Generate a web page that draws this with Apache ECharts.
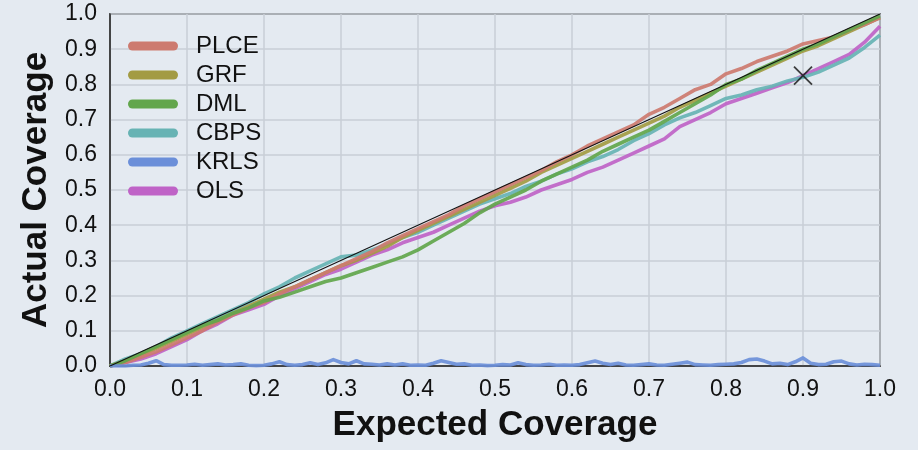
<!DOCTYPE html>
<html><head><meta charset="utf-8">
<script src="https://cdn.jsdelivr.net/npm/echarts@6/dist/echarts.min.js"></script>
<style>html,body{margin:0;padding:0;background:#e4eaf1;}#c{width:918px;height:450px;}</style>
</head><body><div id="c"></div>
<script>
var names = ['PLCE','GRF','DML','CBPS','KRLS','OLS'];
var colors = ['#cd7a6f','#a39b43','#62a64c','#67b3b4','#6b8fd9','#bf63c7'];
var xTicks = [0.0,0.1,0.2,0.3,0.4,0.5,0.6,0.7,0.8,0.9,1.0];
var xs = [0.00,0.02,0.04,0.06,0.08,0.10,0.12,0.14,0.16,0.18,0.20,0.22,0.24,0.26,0.28,0.30,0.32,0.34,0.36,0.38,0.40,0.42,0.44,0.46,0.48,0.50,0.52,0.54,0.56,0.58,0.60,0.62,0.64,0.66,0.68,0.70,0.72,0.74,0.76,0.78,0.80,0.82,0.84,0.86,0.88,0.90,0.92,0.94,0.96,0.98,1.00];
var plce = [0,0.01,0.025,0.04,0.06,0.08,0.10,0.125,0.145,0.165,0.18,0.205,0.225,0.245,0.265,0.285,0.305,0.325,0.35,0.37,0.39,0.41,0.43,0.455,0.475,0.495,0.515,0.535,0.555,0.58,0.60,0.625,0.645,0.665,0.685,0.715,0.735,0.76,0.785,0.80,0.83,0.845,0.865,0.88,0.895,0.915,0.925,0.935,0.955,0.97,0.99];
var grf = [0,0.015,0.03,0.05,0.07,0.09,0.11,0.13,0.15,0.17,0.19,0.21,0.225,0.245,0.265,0.285,0.30,0.32,0.34,0.365,0.385,0.405,0.425,0.445,0.465,0.485,0.505,0.525,0.55,0.57,0.59,0.61,0.63,0.65,0.67,0.69,0.71,0.735,0.755,0.775,0.795,0.815,0.835,0.855,0.875,0.895,0.91,0.93,0.95,0.97,0.99];
var dml = [0,0.015,0.035,0.055,0.075,0.095,0.115,0.13,0.15,0.165,0.185,0.195,0.21,0.225,0.24,0.25,0.265,0.28,0.295,0.31,0.33,0.355,0.38,0.405,0.435,0.46,0.48,0.50,0.525,0.545,0.565,0.585,0.61,0.63,0.65,0.67,0.695,0.72,0.745,0.77,0.80,0.815,0.84,0.86,0.88,0.90,0.915,0.935,0.955,0.975,0.995];
var cbps = [0,0.02,0.035,0.055,0.08,0.10,0.12,0.14,0.16,0.18,0.205,0.225,0.25,0.27,0.29,0.31,0.315,0.33,0.345,0.365,0.38,0.40,0.42,0.44,0.46,0.475,0.49,0.51,0.525,0.545,0.56,0.58,0.595,0.615,0.64,0.66,0.685,0.705,0.72,0.74,0.76,0.77,0.785,0.795,0.81,0.82,0.835,0.855,0.875,0.905,0.94];
var ols = [0,0.01,0.02,0.035,0.055,0.075,0.10,0.12,0.145,0.16,0.175,0.20,0.22,0.24,0.26,0.275,0.295,0.315,0.33,0.35,0.365,0.38,0.40,0.42,0.44,0.455,0.465,0.48,0.50,0.515,0.53,0.55,0.565,0.585,0.605,0.625,0.645,0.68,0.70,0.72,0.745,0.76,0.775,0.79,0.805,0.825,0.845,0.865,0.885,0.92,0.965];
var krlsX = [0.00,0.01,0.02,0.03,0.04,0.05,0.06,0.07,0.08,0.09,0.10,0.11,0.12,0.13,0.14,0.15,0.16,0.17,0.18,0.19,0.20,0.21,0.22,0.23,0.24,0.25,0.26,0.27,0.28,0.29,0.30,0.31,0.32,0.33,0.34,0.35,0.36,0.37,0.38,0.39,0.40,0.41,0.42,0.43,0.44,0.45,0.46,0.47,0.48,0.49,0.50,0.51,0.52,0.53,0.54,0.55,0.56,0.57,0.58,0.59,0.60,0.61,0.62,0.63,0.64,0.65,0.66,0.67,0.68,0.69,0.70,0.71,0.72,0.73,0.74,0.75,0.76,0.77,0.78,0.79,0.80,0.81,0.82,0.83,0.84,0.85,0.86,0.87,0.88,0.89,0.90,0.91,0.92,0.93,0.94,0.95,0.96,0.97,0.98,0.99,1.00];
var krls = [0,0,0,0.002,0.003,0.008,0.015,0.004,0.002,0.002,0.003,0.005,0.002,0.004,0.006,0.003,0.004,0.006,0.002,0.001,0.002,0.006,0.012,0.004,0.002,0.004,0.009,0.004,0.009,0.018,0.01,0.006,0.015,0.006,0.005,0.003,0.006,0.003,0.006,0.002,0.003,0.002,0.008,0.015,0.01,0.005,0.006,0.002,0.003,0.001,0.002,0.004,0.003,0.009,0.004,0.002,0.003,0.005,0.002,0.003,0.002,0.004,0.009,0.014,0.008,0.004,0.008,0.003,0.002,0.004,0.006,0.003,0.002,0.005,0.008,0.011,0.004,0.003,0.002,0.004,0.005,0.006,0.01,0.018,0.02,0.014,0.006,0.008,0.004,0.012,0.023,0.008,0.004,0.005,0.012,0.014,0.006,0.003,0.005,0.004,0.002];
var diagX = [0,1], diagY = [0,1];
var markX = [0.9], markY = [0.825];

function pairs(x, y){ return x.map(function(v,i){ return [v, y[i]]; }); }
var font = '"Liberation Sans", Arial, Helvetica, sans-serif';
var seriesY = {PLCE: plce, GRF: grf, DML: dml, CBPS: cbps, KRLS: krls, OLS: ols};
var drawOrder = ['OLS','CBPS','GRF','PLCE','DML','KRLS'];
var series = drawOrder.map(function(n){
  var i = names.indexOf(n);
  return {
    name: n, type: 'line', showSymbol: false, symbol: 'none',
    data: pairs(n === 'KRLS' ? krlsX : xs, seriesY[n]),
    lineStyle: {color: colors[i], width: 3.6, opacity: 0.92, join: 'round'},
    itemStyle: {color: colors[i]}, z: 3, animation: false
  };
});
series.push({type: 'line', name: 'diag', showSymbol: false, symbol: 'none', data: pairs(diagX, diagY),
  lineStyle: {color: '#111', width: 1.2}, z: 4, animation: false, silent: true});
series.push({type: 'scatter', name: 'mark', data: pairs(markX, markY),
  symbol: 'path://M0,0 L10,10 M10,0 L0,10', symbolSize: 18,
  itemStyle: {color: 'none', borderColor: '#111', borderWidth: 1.8}, z: 6, animation: false, silent: true});

var chart = echarts.init(document.getElementById('c'), null, {renderer: 'canvas'});
chart.setOption({
  backgroundColor: '#e4eaf1',
  animation: false,
  grid: {left: 110, right: 38, top: 14, bottom: 84, show: true, borderColor: '#222', borderWidth: 1.5, backgroundColor: 'transparent'},
  legend: {
    data: names, orient: 'vertical', left: 123, top: 29, itemGap: 5,
    itemWidth: 50, itemHeight: 9,
    icon: 'path://M4.5,0 L45.5,0 A4.5,4.5 0 0 1 45.5,9 L4.5,9 A4.5,4.5 0 0 1 4.5,0 Z',
    textStyle: {fontFamily: font, fontSize: 24, color: '#111', padding: [0,0,0,13]},
    selectedMode: false
  },
  xAxis: {
    type: 'value', min: 0, max: 1, interval: 0.1,
    name: 'Expected Coverage', nameLocation: 'middle', nameGap: 42,
    nameTextStyle: {fontFamily: font, fontSize: 35, fontWeight: 'bold', color: '#111'},
    axisLine: {show: true, lineStyle: {color: '#222', width: 1.5}},
    axisTick: {show: false},
    axisLabel: {fontFamily: font, fontSize: 23, color: '#111', margin: 12,
      formatter: function(v){ return v.toFixed(1); }},
    splitLine: {show: true, lineStyle: {color: '#c8ced6', width: 1.5}}
  },
  yAxis: {
    type: 'value', min: 0, max: 1, interval: 0.1,
    name: 'Actual Coverage', nameLocation: 'middle', nameGap: 54,
    nameTextStyle: {fontFamily: font, fontSize: 35, fontWeight: 'bold', color: '#111'},
    axisLine: {show: true, lineStyle: {color: '#222', width: 1.5}},
    axisTick: {show: false},
    axisLabel: {fontFamily: font, fontSize: 23, color: '#111', margin: 13,
      formatter: function(v){ return v.toFixed(1); }},
    splitLine: {show: true, lineStyle: {color: '#c8ced6', width: 1.5}}
  },
  series: series
});
</script></body></html>
